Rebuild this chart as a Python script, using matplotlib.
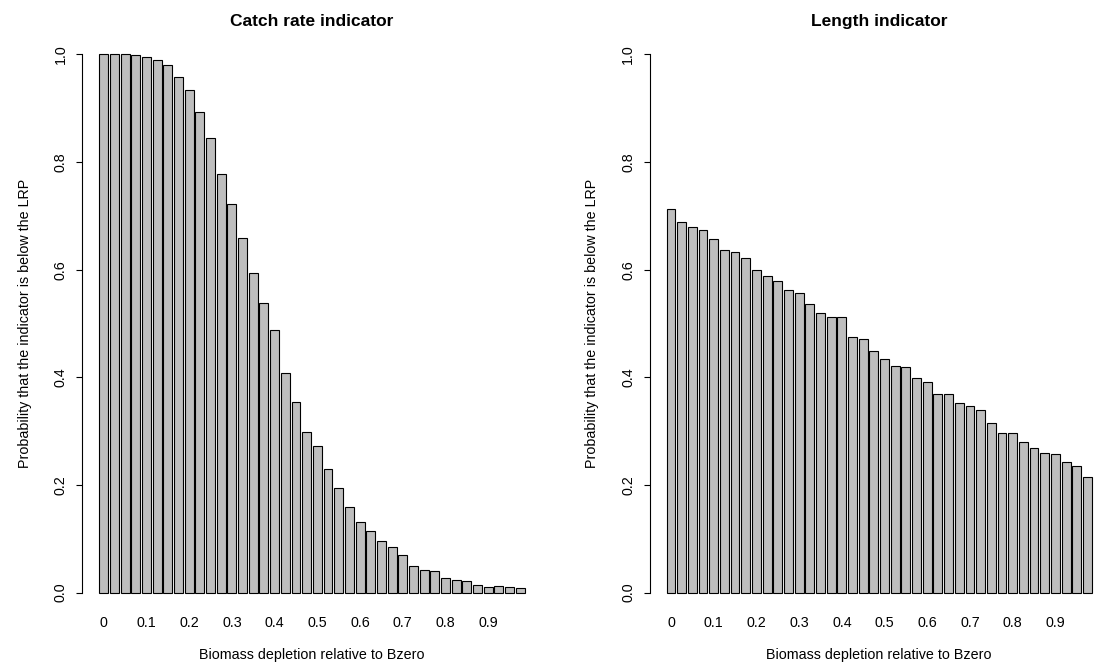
import matplotlib
matplotlib.use("Agg")
import matplotlib.pyplot as plt
import numpy as np

plt.rcParams['font.family'] = ['Liberation Sans', 'DejaVu Sans']

# Biomass depletion levels (40 bars, step 0.025)
depletion = [round(i * 0.025, 3) for i in range(40)]
tick_labels = ["0", "0.1", "0.2", "0.3", "0.4", "0.5", "0.6", "0.7", "0.8", "0.9"]

catch_rate = [1.000, 1.000, 1.000, 0.998, 0.995, 0.990, 0.980, 0.957, 0.934, 0.892,
              0.844, 0.778, 0.722, 0.659, 0.594, 0.538, 0.487, 0.408, 0.355, 0.298,
              0.272, 0.230, 0.195, 0.159, 0.132, 0.115, 0.096, 0.084, 0.070, 0.049,
              0.043, 0.040, 0.027, 0.024, 0.022, 0.015, 0.011, 0.012, 0.011, 0.009]

length_ind = [0.712, 0.688, 0.680, 0.673, 0.657, 0.636, 0.633, 0.622, 0.599, 0.589,
              0.579, 0.563, 0.556, 0.536, 0.520, 0.512, 0.512, 0.475, 0.472, 0.449,
              0.434, 0.421, 0.419, 0.399, 0.391, 0.369, 0.369, 0.352, 0.347, 0.340,
              0.315, 0.297, 0.296, 0.279, 0.269, 0.260, 0.257, 0.242, 0.235, 0.215]

titles = ["Catch rate indicator", "Length indicator"]
xlabel = "Biomass depletion relative to Bzero"
ylabel = "Probability that the indicator is below the LRP"

W, H = 1099, 664
fig = plt.figure(figsize=(W / 100, H / 100), dpi=100)

def px_axes(left, top, right, bottom):
    return fig.add_axes([left / W, 1 - bottom / H, (right - left) / W, (bottom - top) / H])

# R-style barplot geometry: width 1, space 0.2
n = len(depletion)
centers = np.array([0.7 + 1.2 * i for i in range(n)])
xl = (0.2 - 0.04 * 47.8, 48.0 + 0.04 * 47.8)

fs = 10.3
panels = [(82.3, catch_rate), (649.5, length_ind)]
for (left, vals), title in zip(panels, titles):
    ax = px_axes(left, 32.8, left + 459.4, 614.2)
    ax.bar(centers, vals, width=1.0, color="#BEBEBE", edgecolor="black", linewidth=0.8)
    ax.set_xlim(*xl)
    ax.set_ylim(-0.04, 1.04)
    for s in ["top", "right", "bottom"]:
        ax.spines[s].set_visible(False)
    ax.spines["left"].set_bounds(0, 1)
    ax.spines["left"].set_linewidth(0.8)
    ax.set_yticks([0, 0.2, 0.4, 0.6, 0.8, 1.0])
    ax.set_yticklabels(["0.0", "0.2", "0.4", "0.6", "0.8", "1.0"], rotation=90, va="center")
    ax.tick_params(axis="y", length=4.3, width=0.8, pad=6, labelsize=fs)
    ax.set_xticks(centers[::4])
    ax.set_xticklabels(tick_labels)
    ax.tick_params(axis="x", length=0, pad=1, labelsize=fs)
    ax.set_title(title, fontsize=12.5, fontweight="bold", pad=5)
    ax.set_xlabel(xlabel, fontsize=fs, labelpad=13)
    ax.set_ylabel(ylabel, fontsize=fs, labelpad=16)

fig.savefig("out.png", dpi=100)
